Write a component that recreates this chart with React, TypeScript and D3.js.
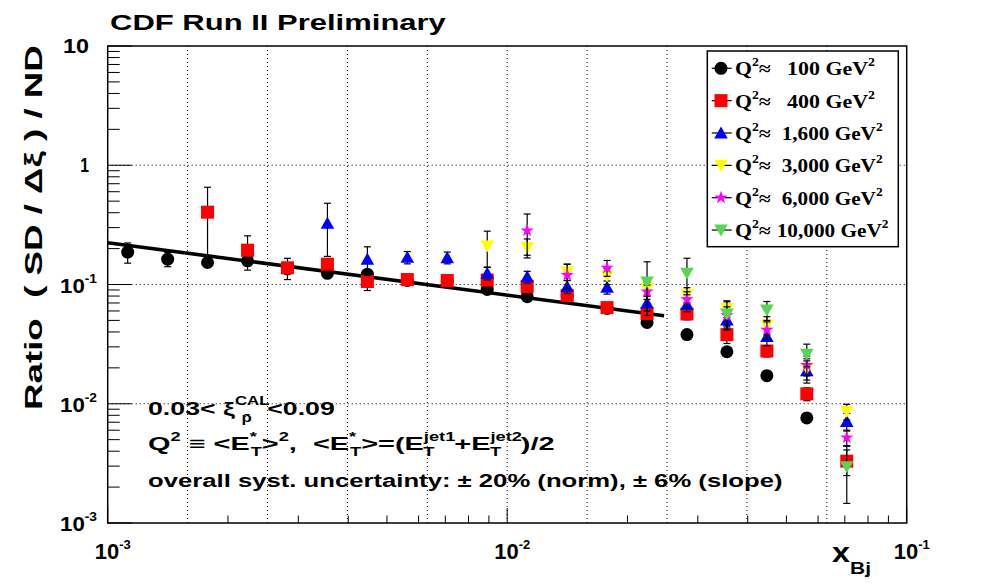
import React, { useLayoutEffect, useRef, useState } from "react";
import * as d3 from "d3";

const W = 997;
const H = 583;

// x_Bj bin centres
const xBins = [
  0.001122, 0.001413, 0.001778, 0.002239, 0.002818, 0.003548, 0.004467, 0.005623,
  0.007079, 0.008913, 0.01122, 0.01413, 0.01778, 0.02239, 0.02818, 0.03548,
  0.04467, 0.05623, 0.07079,
];

// series values (null = no point)
const q100 = [0.187, 0.163, 0.153, 0.158, 0.135, 0.124, 0.122, 0.108, 0.106, 0.091, 0.079, 0.08, 0.063, 0.048, 0.038, 0.0273, 0.0172, 0.0076, null];
const q400 = [null, null, 0.404, 0.194, 0.138, 0.148, 0.106, 0.11, 0.108, 0.109, 0.096, 0.081, 0.064, 0.057, 0.0566, 0.038, 0.0277, 0.0121, 0.0033];
const q1600 = [null, null, null, null, null, 0.326, 0.163, 0.169, 0.168, 0.124, 0.116, 0.096, 0.095, 0.07, 0.068, 0.0503, 0.0366, 0.0189, 0.0071];
const q3000 = [null, null, null, null, null, null, null, null, null, 0.21, 0.204, 0.128, 0.118, 0.092, 0.082, 0.063, 0.0457, 0.0198, 0.0086];
const q6000 = [null, null, null, null, null, null, null, null, null, null, 0.283, 0.12, 0.138, 0.087, 0.075, 0.055, 0.0416, 0.0211, 0.0052];
const q10000 = [null, null, null, null, null, null, null, null, null, null, null, null, null, 0.105, 0.124, 0.0566, 0.061, 0.026, 0.00296];

// statistical errors
const e100 = [0.036, 0.022, 0.012, 0.012, 0.01, 0.008, 0.008, 0.007, 0.006, 0.006, 0.005, 0.005, 0.004, 0.003, 0.002, 0.0015, 0.001, 0.0005, null];
const e400 = [null, null, 0.25, 0.062, 0.028, 0.015, 0.017, 0.01, 0.01, 0.01, 0.009, 0.008, 0.006, 0.006, 0.006, 0.006, 0.003, 0.0015, 0.0008];
const e1600 = [null, null, null, null, null, 0.154, 0.044, 0.02, 0.019, 0.015, 0.013, 0.012, 0.012, 0.01, 0.009, 0.008, 0.006, 0.004, 0.0012];
const e3000 = [null, null, null, null, null, null, null, null, null, 0.07, 0.037, 0.02, 0.018, 0.012, 0.012, 0.01, 0.008, 0.004, 0.0013];
const e6000 = [null, null, null, null, null, null, null, null, null, null, 0.107, 0.028, 0.021, 0.012, 0.012, 0.01, 0.007, 0.004, 0.0008];
const e10000 = [null, null, null, null, null, null, null, null, null, null, null, null, null, 0.05, 0.042, 0.015, 0.011, 0.0056, 0.0015];

const seriesLabels = ["100", "400", "1,600", "3,000", "6,000", "10,000"];
const seriesColors = ["#000000", "#ff0000", "#0000ff", "#ffff00", "#ff00ff", "#59d454"];
const seriesShapes = ["circle", "square", "triUp", "triDown", "star", "triDown"];
const seriesValues = [q100, q400, q1600, q3000, q6000, q10000];
const seriesErrors = [e100, e400, e1600, e3000, e6000, e10000];

// power-law fit line endpoints
const fitX = [0.001, 0.0247];
const fitY = [0.224, 0.0547];

const xTickLabels = [
  { v: 1e-3, base: "10", exp: "-3" },
  { v: 1e-2, base: "10", exp: "-2" },
  { v: 1e-1, base: "10", exp: "-1" },
];
const yTickLabels = [
  { v: 10, base: "10", exp: "" },
  { v: 1, base: "1", exp: "" },
  { v: 1e-1, base: "10", exp: "-1" },
  { v: 1e-2, base: "10", exp: "-2" },
  { v: 1e-3, base: "10", exp: "-3" },
];

const SANS = "'Liberation Sans', Arial, Helvetica, sans-serif";
const SERIF = "'Liberation Serif', 'Times New Roman', serif";

const L = 107.7, R = 906.7, T = 46, B = 523;
const x = d3.scaleLog().domain([1e-3, 1e-1]).range([L, R]);
const y = d3.scaleLog().domain([1e-3, 10]).range([B, T]);

function FitText(props: any) {
  const { x: px, y: py, len, anchor = "start", rot = false, size, family = SANS, weight = "bold", fill = "#000", children } = props;
  const ref = useRef<SVGTextElement>(null);
  const [s, setS] = useState(1);
  useLayoutEffect(() => {
    if (!ref.current || !len) return;
    const w = ref.current.getBBox().width;
    if (w > 0) setS(len / w);
  }, [len]);
  const tr = rot
    ? `translate(${px},${py}) rotate(-90) scale(${s},1)`
    : `translate(${px},${py}) scale(${s},1)`;
  return (
    <g transform={tr}>
      <text ref={ref} textAnchor={anchor} fontSize={size} fontFamily={family} fontWeight={weight} fill={fill} style={{ whiteSpace: "pre" }}>
        {children}
      </text>
    </g>
  );
}

function Marker({ shape, cx, cy, color }: any) {
  if (shape === "circle") return <circle cx={cx} cy={cy} r={6.5} fill={color} />;
  if (shape === "square") return <rect x={cx - 6.5} y={cy - 6.5} width={13} height={13} fill={color} />;
  if (shape === "triUp")
    return <path d={`M${cx - 6.8},${cy + 5.5}L${cx + 6.8},${cy + 5.5}L${cx},${cy - 6.5}Z`} fill={color} />;
  if (shape === "triDown")
    return <path d={`M${cx - 6.8},${cy - 5.5}L${cx + 6.8},${cy - 5.5}L${cx},${cy + 6.5}Z`} fill={color} />;
  const p = d3.symbol().type(d3.symbolStar).size(55)();
  return <path d={p || ""} transform={`translate(${cx},${cy})`} fill={color} />;
}

export default function App() {
  const decades = [1e-3, 1e-2, 1e-1, 1, 10];
  const yMinor: number[] = [];
  [1e-3, 1e-2, 1e-1, 1].forEach((d) => {
    for (let m = 2; m <= 9; m++) yMinor.push(d * m);
  });
  const xMinor: number[] = [];
  [1e-3, 1e-2].forEach((d) => {
    for (let m = 2; m <= 9; m++) xMinor.push(d * m);
  });
  const xGrid = d3.range(1, 10).map((k) => Math.pow(10, -3 + 0.2 * k));
  const yGrid = [1e-2, 1e-1, 1];

  const fitLine = d3.line<number>().x((_, i) => x(fitX[i])).y((d) => y(d))(fitY) || "";

  const legendX = 707.3, legendY = 51, legendW = 191, legendH = 195.7;
  const rowY0 = 68.3, rowStep = 32.35;
  const valueStarts = [787, 787, 781.7, 781.7, 781.7, 776.7];
  const valueEnds = [875, 875, 882.7, 882.7, 882.7, 888.7];

  const renderSeries = (si: number) => {
    const vals = seriesValues[si];
    const errs = seriesErrors[si];
    return (
      <g key={si}>
        {vals.map((v, i) => {
          const e = errs[i];
          if (v == null || e == null) return null;
          const cx = x(xBins[i]);
          const y1 = y(v + e);
          const y2 = y(Math.max(v - e, 1e-4));
          return (
            <g key={i} stroke="#000" strokeWidth={1.2}>
              <line x1={cx} x2={cx} y1={y1} y2={y2} />
              <line x1={cx - 3.5} x2={cx + 3.5} y1={y1} y2={y1} />
              <line x1={cx - 3.5} x2={cx + 3.5} y1={y2} y2={y2} />
            </g>
          );
        })}
        {vals.map((v, i) =>
          v == null ? null : (
            <Marker key={"m" + i} shape={seriesShapes[si]} cx={x(xBins[i])} cy={y(v)} color={seriesColors[si]} />
          )
        )}
      </g>
    );
  };

  return (
    <svg width={W} height={H} style={{ position: "absolute", left: 0, top: 0, background: "#fff" }}>
      <rect width={W} height={H} fill="#fff" />
      {/* grid */}
      <g stroke="#000" strokeWidth={1} strokeDasharray="1,3">
        {xGrid.map((g, i) => (
          <line key={i} x1={x(g)} x2={x(g)} y1={T} y2={B} />
        ))}
        {yGrid.map((g, i) => (
          <line key={"h" + i} x1={L} x2={R} y1={y(g)} y2={y(g)} />
        ))}
      </g>
      {/* ticks */}
      <g stroke="#000" strokeWidth={1}>
        {decades.map((d, i) => (
          <line key={"yM" + i} x1={L} x2={L + 24} y1={y(d)} y2={y(d)} />
        ))}
        {yMinor.map((d, i) => (
          <line key={"ym" + i} x1={L} x2={L + 12} y1={y(d)} y2={y(d)} />
        ))}
        {[1e-3, 1e-2, 1e-1].map((d, i) => (
          <line key={"xM" + i} x1={x(d)} x2={x(d)} y1={B} y2={B - 15} />
        ))}
        {xMinor.map((d, i) => (
          <line key={"xm" + i} x1={x(d)} x2={x(d)} y1={B} y2={B - 7.5} />
        ))}
      </g>

      {renderSeries(0)}
      <path d={fitLine} stroke="#000" strokeWidth={3.6} fill="none" />
      {[1, 2, 3, 4, 5].map((si) => renderSeries(si))}

      {/* frame */}
      <rect x={L} y={T} width={R - L} height={B - T} fill="none" stroke="#000" strokeWidth={1.5} />

      {/* legend */}
      <rect x={legendX} y={legendY} width={legendW} height={legendH} fill="#fff" stroke="#000" strokeWidth={1.5} />
      {seriesLabels.map((lab, i) => {
        const ry = rowY0 + i * rowStep;
        return (
          <g key={"lg" + i}>
            <line x1={711.7} x2={731.7} y1={ry} y2={ry} stroke="#000" strokeWidth={1.2} />
            <Marker shape={seriesShapes[i]} cx={721} cy={ry} color={seriesColors[i]} />
            <FitText x={735} y={ry + 7} len={36.5} size={19} family={SERIF}>
              <tspan>Q</tspan>
              <tspan dy={-9} fontSize={12}>2</tspan>
              <tspan dy={9}>≈</tspan>
            </FitText>
            <FitText x={valueStarts[i]} y={ry + 7} len={valueEnds[i] - valueStarts[i]} size={19} family={SERIF}>
              <tspan>{lab + " GeV"}</tspan>
              <tspan dy={-9} fontSize={12}>2</tspan>
            </FitText>
          </g>
        );
      })}

      {/* title */}
      <FitText x={110} y={30} len={337} size={22}>CDF Run II Preliminary</FitText>

      {/* y axis title */}
      <FitText x={42} y={410} len={365} size={24} rot>
        Ratio  ( SD / Δξ ) / ND
      </FitText>

      {/* x axis title */}
      <FitText x={832} y={562} len={18} size={27}>x</FitText>
      <FitText x={850} y={574} len={21} size={16}>Bj</FitText>

      {/* y tick labels */}
      {yTickLabels.map((t, i) => (
        <g key={"yl" + i}>
          {t.exp === "" ? (
            <FitText x={89} y={y(t.v) + 7} len={t.base === "1" ? 9 : 26} size={21} anchor="end">{t.base}</FitText>
          ) : (
            <FitText x={97} y={y(t.v) + 8} len={37} size={21} anchor="end">
              <tspan>{t.base}</tspan>
              <tspan dy={-10} fontSize={13}>{t.exp}</tspan>
            </FitText>
          )}
        </g>
      ))}

      {/* x tick labels */}
      {xTickLabels.map((t, i) => (
        <FitText key={"xl" + i} x={x(t.v) + 5} y={559} len={36} size={22} anchor="middle">
          <tspan>{t.base}</tspan>
          <tspan dy={-10} fontSize={13}>{t.exp}</tspan>
        </FitText>
      ))}

      {/* annotations */}
      <FitText x={148} y={415} len={187} size={19}>
        <tspan>0.03&lt; ξ</tspan>
        <tspan dy={-10} fontSize={12}>CAL</tspan>
        <tspan dx={-20} dy={17} fontSize={12}>p̄</tspan>
        <tspan dx={11} dy={-7}>&lt;0.09</tspan>
      </FitText>
      <FitText x={148} y={450} len={407} size={19}>
        <tspan>Q</tspan>
        <tspan dy={-9} fontSize={12}>2</tspan>
        <tspan dy={9}> ≡ &lt;E</tspan>
        <tspan dy={-9} fontSize={12}>*</tspan>
        <tspan dx={-4} dy={15} fontSize={12}>T</tspan>
        <tspan dy={-6}>&gt;</tspan>
        <tspan dy={-9} fontSize={12}>2</tspan>
        <tspan dy={9}>,  &lt;E</tspan>
        <tspan dy={-9} fontSize={12}>*</tspan>
        <tspan dx={-4} dy={15} fontSize={12}>T</tspan>
        <tspan dy={-6}>&gt;=(E</tspan>
        <tspan dy={-9} fontSize={12}>jet1</tspan>
        <tspan dx={-21} dy={15} fontSize={12}>T</tspan>
        <tspan dx={13} dy={-6}>+E</tspan>
        <tspan dy={-9} fontSize={12}>jet2</tspan>
        <tspan dx={-21} dy={15} fontSize={12}>T</tspan>
        <tspan dx={13} dy={-6}>)/2</tspan>
      </FitText>
      <FitText x={148} y={487} len={635} size={19}>
        overall syst. uncertainty: ± 20% (norm), ± 6% (slope)
      </FitText>
    </svg>
  );
}
